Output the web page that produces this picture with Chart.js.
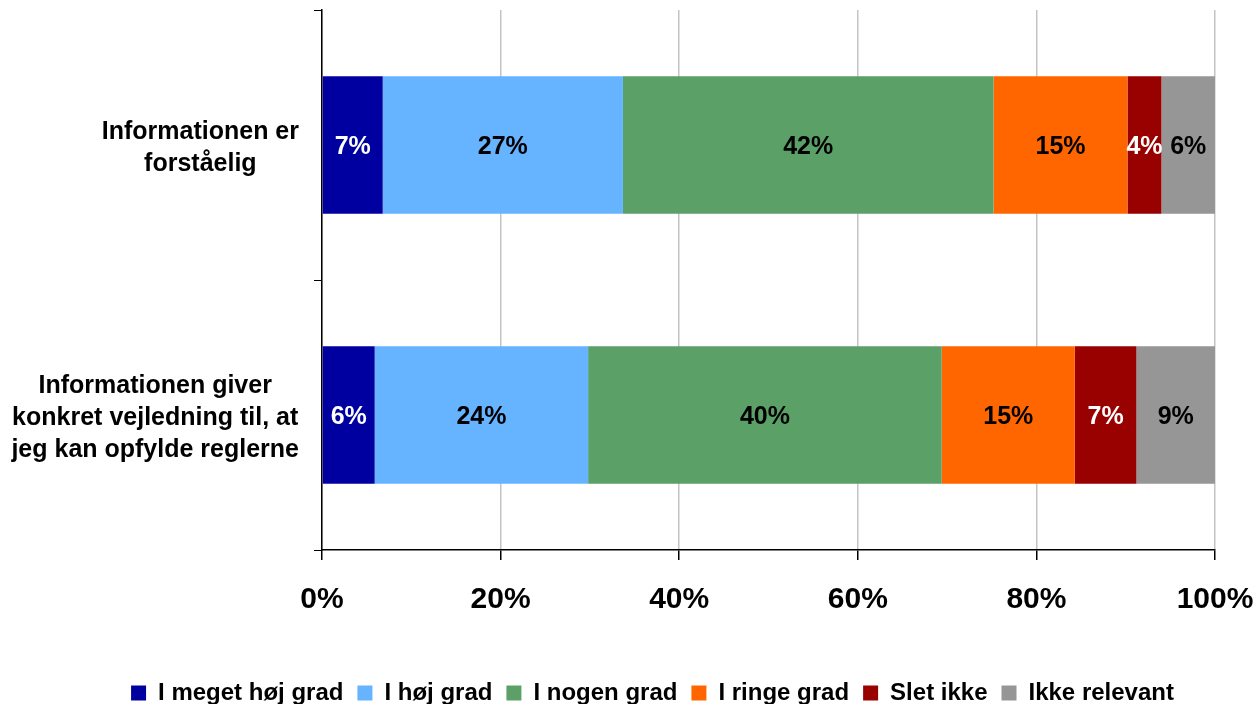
<!DOCTYPE html>
<html>
<head>
<meta charset="utf-8">
<script src="https://cdn.jsdelivr.net/npm/chart.js@4.4.1/dist/chart.umd.min.js"></script>
<style>
  html, body { margin: 0; padding: 0; background: #fff; overflow: hidden; }
  #wrap { width: 1305px; height: 715px; }
</style>
</head>
<body>
<div id="wrap"><canvas id="surveyChart"></canvas></div>
<script>
// kategorier (y-aksen)
const categories = [
  ['Informationen er', 'forståelig'],
  ['Informationen giver', 'konkret vejledning til, at', 'jeg kan opfylde reglerne']
];

// serier, andel i procent
const seriesNames = ['I meget høj grad', 'I høj grad', 'I nogen grad', 'I ringe grad', 'Slet ikke', 'Ikke relevant'];
const meget = [6.8, 5.9];
const hoej = [26.9, 23.9];
const nogen = [41.5, 39.6];
const ringe = [15.0, 14.9];
const slet = [3.8, 6.9];
const ikkeRelevant = [6.0, 8.8];

const xTicks = [0, 20, 40, 60, 80, 100];

const colors = ['#0000A0', '#66B3FF', '#5BA066', '#FF6600', '#990000', '#969696'];
const labelColors = ['#fff', '#000', '#000', '#000', '#fff', '#000'];

const FONT = "'Liberation Sans', Arial, sans-serif";

// tekst midt i hver del af søjlen
const barLabels = {
  id: 'barLabels',
  afterDatasetsDraw(chart) {
    const ctx = chart.ctx;
    ctx.save();
    ctx.font = 'bold 25px ' + FONT;
    ctx.textAlign = 'center';
    ctx.textBaseline = 'middle';
    chart.data.datasets.forEach((ds, i) => {
      const meta = chart.getDatasetMeta(i);
      meta.data.forEach((bar, j) => {
        ctx.fillStyle = labelColors[i];
        ctx.fillText(Math.round(ds.data[j]) + '%', (bar.x + bar.base) / 2, bar.y + 2);
      });
    });
    ctx.restore();
  }
};

// kategoritekst: højrestillet blok, linjerne centreret i blokken (som i Excel)
const categoryLabels = {
  id: 'categoryLabels',
  afterDraw(chart) {
    const ctx = chart.ctx;
    const yScale = chart.scales.y;
    const right = chart.chartArea.left - 23;
    const lineH = 32;
    ctx.save();
    ctx.font = 'bold 25px ' + FONT;
    ctx.fillStyle = '#000';
    ctx.textAlign = 'center';
    ctx.textBaseline = 'middle';
    chart.data.labels.forEach((lines, i) => {
      const w = Math.max(...lines.map(t => ctx.measureText(t).width));
      const cx = right - w / 2;
      const cy = yScale.getPixelForValue(i) + 3;
      lines.forEach((t, k) => {
        ctx.fillText(t, cx, cy + (k - (lines.length - 1) / 2) * lineH);
      });
    });
    ctx.restore();
  }
};

const allSeries = [meget, hoej, nogen, ringe, slet, ikkeRelevant];

new Chart(document.getElementById('surveyChart'), {
  type: 'bar',
  data: {
    labels: categories,
    datasets: allSeries.map((d, i) => ({
      label: seriesNames[i],
      data: d,
      backgroundColor: colors[i],
      borderWidth: 0,
      categoryPercentage: 1,
      barPercentage: 0.51
    }))
  },
  options: {
    indexAxis: 'y',
    responsive: true,
    maintainAspectRatio: false,
    animation: false,
    layout: { padding: { top: 10, left: 0, right: 0, bottom: 0 } },
    scales: {
      x: {
        stacked: true,
        min: 0,
        max: 100,
        afterBuildTicks: (s) => { s.ticks = xTicks.map(v => ({ value: v })); },
        afterFit: (s) => { s.paddingRight = 90; s.height = 117; },
        ticks: {
          callback: (v) => v + '%',
          color: '#000',
          font: { family: FONT, size: 30, weight: 'bold' },
          padding: 22,
          maxRotation: 0
        },
        grid: { color: '#c4c4c4', lineWidth: 1.5, tickColor: '#000', tickLength: 10 },
        border: { color: '#000', width: 1.5 }
      },
      y: {
        stacked: true,
        afterFit: (s) => { s.paddingTop = 0; s.paddingBottom = 0; s.width = 322; },
        ticks: { display: false },
        grid: { drawOnChartArea: false, offset: true, tickColor: '#000', tickLength: 8 },
        border: { color: '#000', width: 1.5 }
      }
    },
    plugins: {
      legend: {
        position: 'bottom',
        labels: {
          color: '#000',
          font: { family: FONT, size: 24, weight: 'bold' },
          boxWidth: 15,
          boxHeight: 15,
          padding: 14
        }
      },
      tooltip: { enabled: false }
    }
  },
  plugins: [barLabels, categoryLabels]
});
</script>
</body>
</html>
